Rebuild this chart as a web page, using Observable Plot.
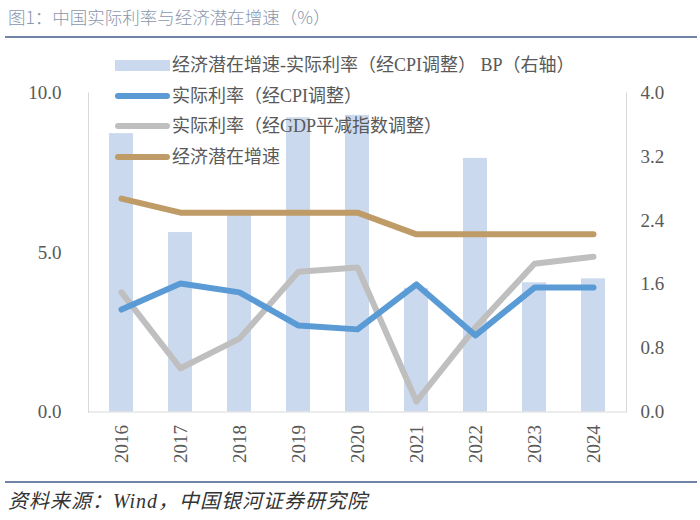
<!DOCTYPE html>
<html><head><meta charset="utf-8">
<script src="https://cdn.jsdelivr.net/npm/d3@7"></script>
<script src="https://cdn.jsdelivr.net/npm/@observablehq/plot@0.6"></script>
<style>
body{margin:0;width:700px;height:520px;position:relative;background:#fff;overflow:hidden;font-family:"Liberation Serif","Noto Sans CJK SC",serif;}
#title{position:absolute;left:8px;top:4px;font-family:"Noto Sans CJK SC",sans-serif;font-size:17.5px;color:#8a97ad;font-weight:300;white-space:nowrap;}
#tline{position:absolute;left:5px;top:36px;width:692px;height:2px;background:#6f84a8;}
#chart{position:absolute;left:0;top:40px;}
#legend{position:absolute;left:115px;top:52px;font-size:18px;color:#595959;}
.row{position:relative;height:30.5px;line-height:26px;white-space:nowrap;}
.sw{position:absolute;left:0;width:55px;}
.row span{position:absolute;left:57px;top:0;}
#bline{position:absolute;left:5px;top:481px;width:692px;height:2px;background:#6f84a8;}
#source{position:absolute;left:8px;top:485px;font-size:20px;font-style:italic;color:#333;white-space:nowrap;letter-spacing:1px;}
</style></head>
<body>
<div id="title">图1：中国实际利率与经济潜在增速（%）</div>
<div id="tline"></div>
<div id="chart"></div>
<div id="legend"></div>
<div id="bline"></div>
<div id="source">资料来源：Wind，中国银河证券研究院</div>
<script>
const years = ["2016","2017","2018","2019","2020","2021","2022","2023","2024"];
const gapBP = [3.49, 2.25, 2.50, 3.69, 3.72, 1.55, 3.18, 1.62, 1.67];
const realCPI = [3.21, 4.03, 3.75, 2.71, 2.59, 4.00, 2.40, 3.90, 3.90];
const realGDP = [3.75, 1.37, 2.30, 4.40, 4.53, 0.33, 2.65, 4.65, 4.87];
const potential = [6.69, 6.25, 6.25, 6.25, 6.25, 5.57, 5.57, 5.57, 5.57];
const leftTicks = [0, 5, 10];
const rightTicks = [0, 0.8, 1.6, 2.4, 3.2, 4.0];
const seriesNames = ["经济潜在增速-实际利率（经CPI调整） BP（右轴）","实际利率（经CPI调整）","实际利率（经GDP平减指数调整）","经济潜在增速"];
const colors = ["#cbd9ef","#5b9bd5","#bfbfbf","#bf9b67"];

const leftMax = 10, rightMax = 4;
const k = leftMax / rightMax;
const data = years.map((y, i) => ({year: y, bp: gapBP[i], cpi: realCPI[i], gdp: realGDP[i], pot: potential[i]}));
const lineOpts = (key, c) => ({x: "year", y: key, stroke: c, strokeWidth: 6, strokeLinecap: "round", strokeLinejoin: "round"});

const chart = Plot.plot({
  width: 700, height: 440,
  marginLeft: 88, marginRight: 74, marginTop: 52.5, marginBottom: 68.5,
  style: {fontFamily: '"Liberation Serif","Noto Sans CJK SC",serif', background: "transparent"},
  x: {type: "band", domain: years, paddingInner: 0.6, paddingOuter: 0.3, axis: null},
  y: {domain: [0, leftMax], axis: null},
  marks: [
    Plot.barY(data, {x: "year", y: d => d.bp * k, fill: colors[0]}),
    Plot.line(data, lineOpts("gdp", colors[2])),
    Plot.line(data, lineOpts("cpi", colors[1])),
    Plot.line(data, lineOpts("pot", colors[3])),
    Plot.frame({anchor: "left", stroke: "#d9d9d9"}),
    Plot.frame({anchor: "right", stroke: "#d9d9d9"}),
    Plot.ruleY([0], {stroke: "#d9d9d9"}),
    Plot.axisY(leftTicks, {anchor: "left", tickSize: 0, tickPadding: 27, fontSize: 19, fill: "#595959", tickFormat: d => d.toFixed(1), label: null}),
    Plot.axisY(rightTicks.map(v => v * k), {anchor: "right", tickSize: 0, tickPadding: 14, fontSize: 19, fill: "#595959", tickFormat: d => (d / k).toFixed(1), label: null}),
    Plot.axisX({tickRotate: -90, tickSize: 0, tickPadding: 13, fontSize: 19, fill: "#595959", label: null})
  ]
});
document.getElementById("chart").appendChild(chart);

const lg = document.getElementById("legend");
seriesNames.forEach((name, i) => {
  const row = document.createElement("div");
  row.className = "row";
  const sw = document.createElement("div");
  sw.className = "sw";
  if (i === 0) { sw.style.top = "8px"; sw.style.height = "11px"; sw.style.background = colors[0]; }
  else { sw.style.top = "10px"; sw.style.height = "6px"; sw.style.borderRadius = "3px"; sw.style.background = colors[i]; }
  const t = document.createElement("span");
  t.textContent = name;
  row.appendChild(sw); row.appendChild(t);
  lg.appendChild(row);
});
</script>
</body></html>
